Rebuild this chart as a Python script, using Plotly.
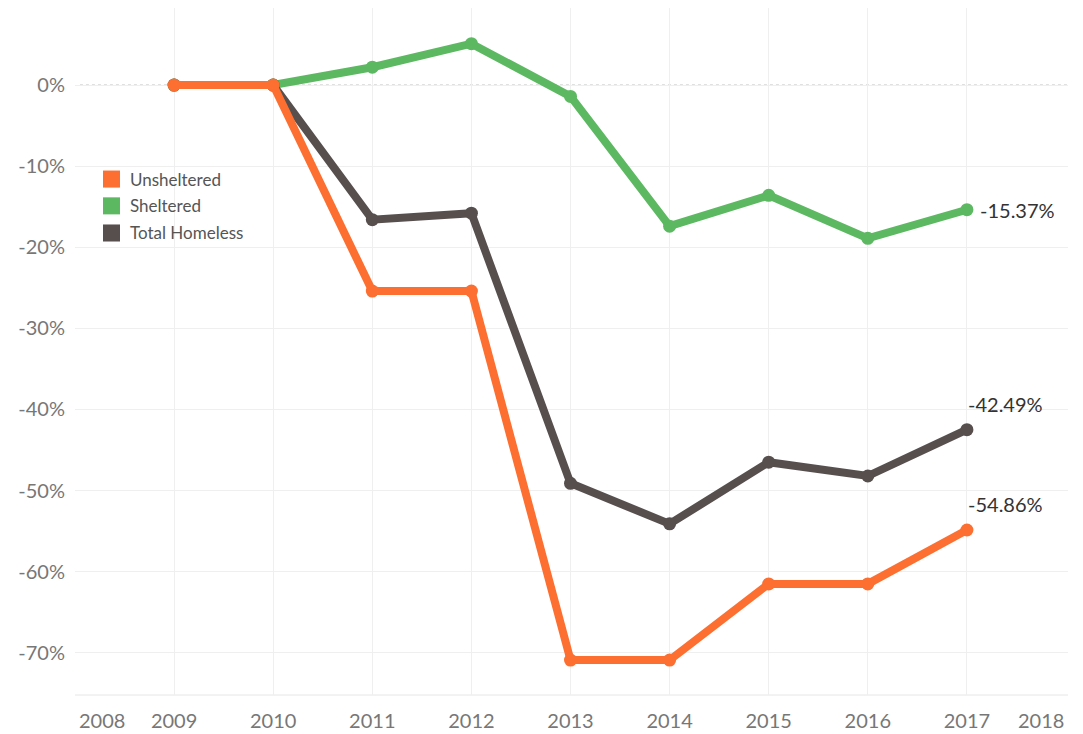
import plotly.graph_objects as go

years = [2009, 2010, 2011, 2012, 2013, 2014, 2015, 2016, 2017]
unsheltered = [0.0, 0.0, -0.254, -0.254, -0.709, -0.709, -0.615, -0.615, -0.5486]
sheltered = [0.0, 0.0, 0.022, 0.051, -0.014, -0.174, -0.136, -0.189, -0.1537]
total = [0.0, 0.0, -0.166, -0.158, -0.491, -0.541, -0.465, -0.482, -0.4249]

series_names = ["Unsheltered", "Sheltered", "Total Homeless"]
colors = {"Unsheltered": "#FD6F30", "Sheltered": "#5DB862", "Total Homeless": "#574F4D"}
values = {"Unsheltered": unsheltered, "Sheltered": sheltered, "Total Homeless": total}

y_ticks = [0, -0.1, -0.2, -0.3, -0.4, -0.5, -0.6, -0.7]
y_labels = ["0%", "-10%", "-20%", "-30%", "-40%", "-50%", "-60%", "-70%"]
x_ticks = [2008, 2009, 2010, 2011, 2012, 2013, 2014, 2015, 2016, 2017]
x_labels = ["", "2009", "2010", "2011", "2012", "2013", "2014", "2015", "2016", "2017"]
edge_labels = [(2008, "2008"), (2018, "2018")]

FONT = "Lato"
TICK_SIZE = 20
fig = go.Figure()

# draw order: sheltered, total, unsheltered on top
for name in ["Sheltered", "Total Homeless", "Unsheltered"]:
    fig.add_trace(go.Scatter(
        x=years, y=values[name], mode="lines+markers", name=name,
        line=dict(color=colors[name], width=8),
        marker=dict(color=colors[name], size=13),
        showlegend=False, hoverinfo="skip"))

# end labels
lab_font = dict(family=FONT, size=20, color="#333333")
fig.add_annotation(x=years[-1], y=sheltered[-1], text=f"{sheltered[-1]*100:.2f}%",
                   showarrow=False, xanchor="left", yanchor="middle", xshift=11,
                   font=lab_font)
fig.add_annotation(x=years[-1], y=total[-1], text=f"{total[-1]*100:.2f}%",
                   showarrow=False, xanchor="left", yanchor="middle", xshift=-1, yshift=26,
                   font=lab_font)
fig.add_annotation(x=years[-1], y=unsheltered[-1], text=f"{unsheltered[-1]*100:.2f}%",
                   showarrow=False, xanchor="left", yanchor="middle", xshift=-1, yshift=26,
                   font=lab_font)

# edge year labels
fig.add_annotation(x=edge_labels[0][0], y=0, yref="paper", text=edge_labels[0][1],
                   showarrow=False, xanchor="left", yanchor="middle", xshift=2, yshift=-25,
                   font=dict(family=FONT, size=TICK_SIZE, color="#777777"))
fig.add_annotation(x=edge_labels[1][0], y=0, yref="paper", text=edge_labels[1][1],
                   showarrow=False, xanchor="right", yanchor="middle", xshift=0, yshift=-25,
                   font=dict(family=FONT, size=TICK_SIZE, color="#777777"))

# custom legend (paper coordinates)
leg_y = [0.751, 0.712, 0.6725]
for name, yc in zip(series_names, leg_y):
    fig.add_shape(type="rect", xref="paper", yref="paper",
                  x0=0.0282, x1=0.0453, y0=yc - 0.0124, y1=yc + 0.0124,
                  fillcolor=colors[name], line=dict(width=0))
    fig.add_annotation(xref="paper", yref="paper", x=0.0534, y=yc, text=name,
                       showarrow=False, xanchor="left", yanchor="middle",
                       font=dict(family=FONT, size=17, color="#555555"))

# dotted zero reference line
fig.add_shape(type="line", xref="paper", x0=0, x1=1, y0=0, y1=0,
              line=dict(color="white", width=2), layer="below")
fig.add_shape(type="line", xref="paper", x0=0.005, x1=1, y0=0, y1=0,
              line=dict(color="#BBBBBB", width=1, dash="dot"), layer="below")
fig.add_shape(type="line", xref="paper", yref="paper", x0=0, x1=1, y0=0, y1=0,
              line=dict(color="#E6E6E6", width=1), layer="below")

fig.update_layout(
    width=1075, height=726,
    margin=dict(l=67, r=15, t=0, b=39),
    plot_bgcolor="white", paper_bgcolor="white",
    font=dict(family=FONT, color="#777777"),
    showlegend=False,
    xaxis=dict(range=[2008, 2018.02], tickvals=x_ticks, ticktext=x_labels,
               showgrid=True, gridcolor="#EFEFEF", gridwidth=1, zeroline=False,
               showline=False, automargin=False,
               tickfont=dict(family=FONT, size=TICK_SIZE, color="#777777"),
               ticklabelstandoff=12),
    yaxis=dict(range=[-0.752, 0.095], tickvals=y_ticks, ticktext=y_labels,
               showgrid=True, gridcolor="#EFEFEF", gridwidth=1, zeroline=False,
               automargin=False,
               tickfont=dict(family=FONT, size=TICK_SIZE, color="#777777"),
               ticklabelstandoff=9),
)

fig.write_html("out.html")
